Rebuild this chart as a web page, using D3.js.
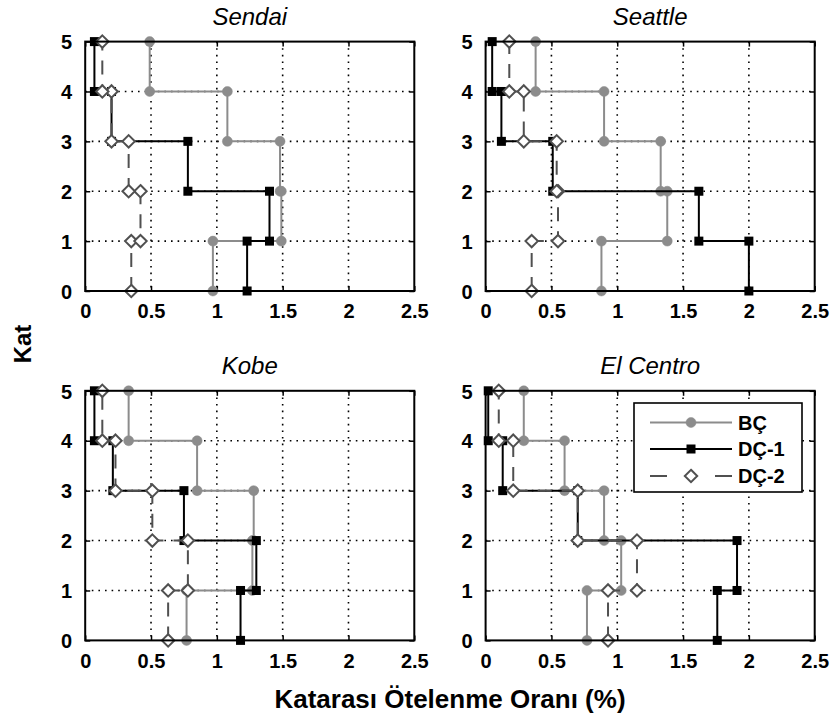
<!DOCTYPE html>
<html>
<head>
<meta charset="utf-8">
<script src="https://cdn.jsdelivr.net/npm/d3@7"></script>
<style>
  html, body { margin: 0; padding: 0; background: #fff; }
  svg { display: block; font-family: Arial, "Liberation Sans", sans-serif; }
</style>
</head>
<body>
<svg id="chart" width="832" height="717"></svg>
<script>
// ---- data ----
const panelTitles = ["Sendai", "Seattle", "Kobe", "El Centro"];
const seriesNames = ["BÇ", "DÇ-1", "DÇ-2"];
const xTicks = [0, 0.5, 1, 1.5, 2, 2.5];
const xTickLabels = ["0", "0.5", "1", "1.5", "2", "2.5"];
const yTicks = [0, 1, 2, 3, 4, 5];
const yTickLabels = ["0", "1", "2", "3", "4", "5"];
// drift ratio (%) per story 1..5
const sendaiBC  = [0.97, 1.49, 1.48, 1.08, 0.49];
const sendaiDC1 = [1.23, 1.40, 0.78, 0.20, 0.07];
const sendaiDC2 = [0.35, 0.42, 0.33, 0.20, 0.13];
const seattleBC  = [0.88, 1.38, 1.33, 0.90, 0.38];
const seattleDC1 = [2.00, 1.62, 0.51, 0.12, 0.05];
const seattleDC2 = [0.35, 0.55, 0.54, 0.29, 0.18];
const kobeBC  = [0.77, 1.27, 1.28, 0.85, 0.33];
const kobeDC1 = [1.18, 1.30, 0.75, 0.21, 0.07];
const kobeDC2 = [0.63, 0.78, 0.51, 0.23, 0.13];
const elcentroBC  = [0.77, 1.03, 0.90, 0.60, 0.29];
const elcentroDC1 = [1.76, 1.91, 0.70, 0.13, 0.02];
const elcentroDC2 = [0.93, 1.15, 0.70, 0.21, 0.10];
const xLabel = "Katarası Ötelenme Oranı (%)";
const yLabel = "Kat";

// ---- layout / style ----
const panelData = [
  [sendaiBC, sendaiDC1, sendaiDC2],
  [seattleBC, seattleDC1, seattleDC2],
  [kobeBC, kobeDC1, kobeDC2],
  [elcentroBC, elcentroDC1, elcentroDC2]
];
const panelBoxes = [
  {x0: 85.2, x1: 414.3, y0: 41.6, y1: 291},
  {x0: 485.6, x1: 814.7, y0: 41.6, y1: 291},
  {x0: 85.2, x1: 414.3, y0: 390.8, y1: 640.4},
  {x0: 485.6, x1: 814.7, y0: 390.8, y1: 640.4}
];
const styles = [
  {color: "#8c8c8c", dash: null, marker: "circle"},
  {color: "#000000", dash: null, marker: "square"},
  {color: "#505050", dash: "14,10", marker: "diamond"}
];

const svg = d3.select("#chart");

function drawMarker(g, type, x, y, color) {
  if (type === "circle") {
    g.append("circle").attr("cx", x).attr("cy", y).attr("r", 5)
      .attr("fill", color).attr("stroke", color).attr("stroke-width", 0.5);
  } else if (type === "square") {
    g.append("rect").attr("x", x - 4.5).attr("y", y - 4.5)
      .attr("width", 9).attr("height", 9).attr("fill", color);
  } else {
    const s = 6.2;
    g.append("path")
      .attr("d", `M${x},${y - s}L${x + s},${y}L${x},${y + s}L${x - s},${y}Z`)
      .attr("fill", "#fff").attr("stroke", color).attr("stroke-width", 2);
  }
}

panelData.forEach((series, pi) => {
  const b = panelBoxes[pi];
  const x = d3.scaleLinear().domain([0, 2.5]).range([b.x0, b.x1]);
  const y = d3.scaleLinear().domain([0, 5]).range([b.y1, b.y0]);
  const g = svg.append("g");

  // grid
  const grid = g.append("g").attr("stroke", "#000").attr("stroke-width", 1.6)
    .attr("stroke-dasharray", "1.6,5");
  xTicks.slice(1, -1).forEach(t => {
    grid.append("line").attr("x1", x(t)).attr("x2", x(t))
      .attr("y1", y(5)).attr("y2", y(0));
  });
  yTicks.slice(1, -1).forEach(t => {
    grid.append("line").attr("x1", x(0)).attr("x2", x(2.5))
      .attr("y1", y(t)).attr("y2", y(t));
  });

  // axes (inward ticks, MATLAB style)
  const axB = d3.axisBottom(x).tickValues(xTicks).tickFormat((d, i) => xTickLabels[i])
    .tickSizeInner(-5).tickSizeOuter(0).tickPadding(13);
  const axT = d3.axisTop(x).tickValues(xTicks).tickFormat("").tickSizeInner(-5).tickSizeOuter(0);
  const axL = d3.axisLeft(y).tickValues(yTicks).tickFormat((d, i) => yTickLabels[i])
    .tickSizeInner(-5).tickSizeOuter(0).tickPadding(13);
  const axR = d3.axisRight(y).tickValues(yTicks).tickFormat("").tickSizeInner(-5).tickSizeOuter(0);
  const gB = g.append("g").attr("transform", `translate(0,${y(0)})`).call(axB);
  const gT = g.append("g").attr("transform", `translate(0,${y(5)})`).call(axT);
  const gL = g.append("g").attr("transform", `translate(${x(0)},0)`).call(axL);
  const gR = g.append("g").attr("transform", `translate(${x(2.5)},0)`).call(axR);
  [gB, gT, gL, gR].forEach(a => {
    a.select(".domain").remove();
    a.selectAll(".tick line").attr("stroke", "#000").attr("stroke-width", 1.5);
    a.selectAll("text").attr("fill", "#000").style("font-size", "20px").style("font-weight", "bold");
  });
  gL.selectAll("text").attr("dy", "0.36em");
  gB.selectAll("text").attr("dy", "0.71em");

  // title
  g.append("text").attr("x", (b.x0 + b.x1) / 2).attr("y", b.y0 - 17)
    .attr("text-anchor", "middle").style("font-size", "24px").style("font-style", "italic")
    .text(panelTitles[pi]);

  // series
  series.forEach((vals, si) => {
    const st = styles[si];
    const pts = [];
    vals.forEach((v, i) => { pts.push([v, i]); pts.push([v, i + 1]); });
    const line = d3.line().x(d => x(d[0])).y(d => y(d[1]));
    const sg = g.append("g");
    sg.append("path").attr("d", line(pts)).attr("fill", "none")
      .attr("stroke", st.color).attr("stroke-width", 2)
      .attr("stroke-dasharray", st.dash);
    pts.forEach(p => drawMarker(sg, st.marker, x(p[0]), y(p[1]), st.color));
  });

  // frame
  g.append("rect").attr("x", b.x0).attr("y", b.y0)
    .attr("width", b.x1 - b.x0).attr("height", b.y1 - b.y0)
    .attr("fill", "none").attr("stroke", "#000").attr("stroke-width", 2);
});

// legend in El Centro panel
const lg = svg.append("g");
lg.append("rect").attr("x", 634).attr("y", 403).attr("width", 168).attr("height", 89)
  .attr("fill", "#fff").attr("stroke", "#000").attr("stroke-width", 1.6);
const rowsY = [422.5, 449, 476];
seriesNames.forEach((name, i) => {
  const st = styles[i];
  lg.append("line").attr("x1", 650).attr("x2", 732).attr("y1", rowsY[i]).attr("y2", rowsY[i])
    .attr("stroke", st.color).attr("stroke-width", 2)
    .attr("stroke-dasharray", i === 2 ? "17,48" : null);
  drawMarker(lg, st.marker, 691, rowsY[i], st.color);
  lg.append("text").attr("x", 738).attr("y", rowsY[i]).attr("dy", "0.36em")
    .style("font-size", "20px").style("font-weight", "bold").text(name);
});

// axis labels
svg.append("text").attr("x", 450).attr("y", 707.5).attr("text-anchor", "middle")
  .style("font-size", "26px").style("font-weight", "bold")
  .text(xLabel);
svg.append("text").attr("transform", "translate(31,344) rotate(-90)")
  .attr("text-anchor", "middle").style("font-size", "24px").style("font-weight", "bold")
  .text(yLabel);
</script>
</body>
</html>
